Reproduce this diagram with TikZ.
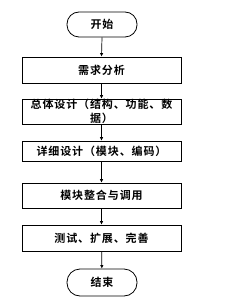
\documentclass[tikz,border=0pt]{standalone}
\usepackage{fontspec}
\newfontfamily\cjk{Noto Sans CJK SC}[BoldFont={Noto Sans CJK SC Bold},LetterSpace=8]
\usetikzlibrary{arrows.meta}
\begin{document}
\begin{tikzpicture}[x=1pt,y=-1pt,
  every node/.style={font=\cjk\bfseries\fontsize{11}{14}\selectfont},
  procbox/.style={draw, line width=0.8pt, minimum width=159pt, inner sep=0pt, align=center},
  termbox/.style={draw, line width=0.8pt, rounded corners=12pt, minimum width=70pt, inner sep=0pt},
  flow/.style={draw, line width=0.7pt, -{Latex[length=3.5pt,width=3.5pt]}}]
\useasboundingbox (0,0) rectangle (237,304);
\node[termbox, minimum height=25pt] (s) at (102,24.5) {开始};
\node[procbox, minimum height=26pt] (b1) at (101.5,70) {需求分析};
\node[procbox, minimum height=25pt] (b2) at (101.5,111.5) {总体设计（结构、功能、数\\据）};
\node[procbox, minimum height=20pt] (b3) at (101.5,151) {详细设计（模块、编码）};
\node[procbox, minimum height=25pt] (b4) at (101.5,195.5) {模块整合与调用};
\node[procbox, minimum height=26pt] (b5) at (101.5,238) {测试、扩展、完善};
\node[termbox, minimum height=27pt, rounded corners=13pt] (e) at (102,282.5) {结束};
\draw[flow] (s.south) -- (b1.north);
\draw[flow] (b1) -- (b2);
\draw[flow] (b2) -- (b3);
\draw[flow] (b3) -- (b4);
\draw[flow] (b4) -- (b5);
\draw[flow] (b5) -- (e);
\end{tikzpicture}
\end{document}
